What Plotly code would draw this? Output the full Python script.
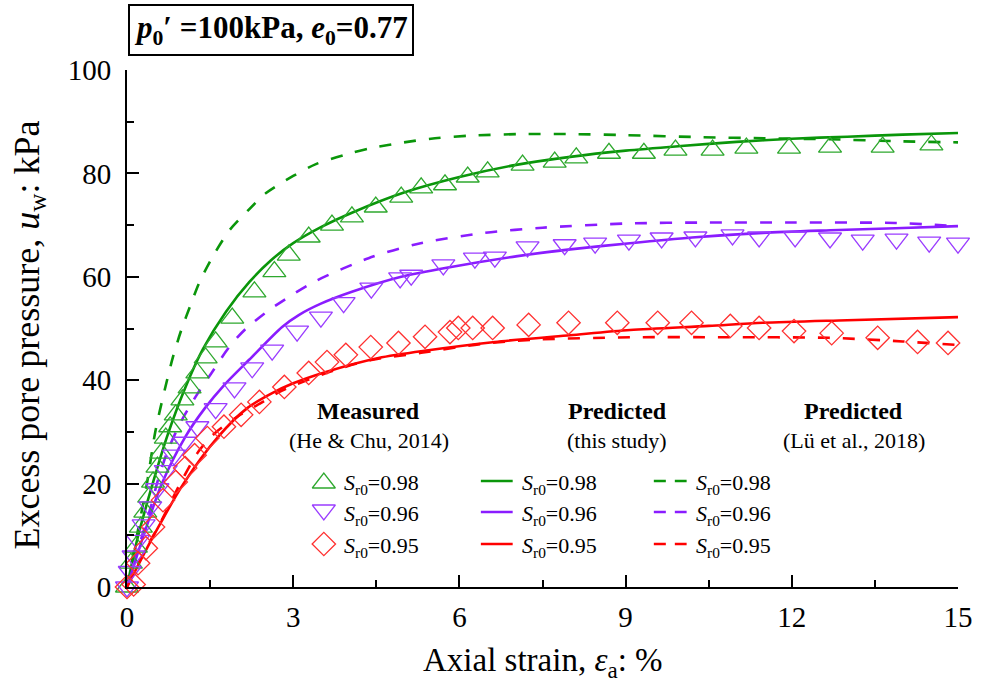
import plotly.graph_objects as go

# ---------------- data ----------------
meas_098_x = [0, 0.07, 0.16, 0.25, 0.33, 0.40, 0.47, 0.55, 0.62, 0.70, 0.78, 0.88, 1.0, 1.13, 1.27, 1.42, 1.6, 1.9,
              2.3, 2.66, 2.92, 3.28, 3.70, 4.06, 4.49, 4.95, 5.31, 5.74, 6.15, 6.51, 7.14, 7.72, 8.11, 8.70, 9.33,
              9.90, 10.57, 11.18, 11.95, 12.69, 13.64, 14.52]
meas_098_y = [0, 4.6, 7.7, 11.6, 14.5, 17.4, 20.3, 23.2, 25.9, 28.8, 31, 33.3, 36.2, 38.5, 41.4, 44.3, 47.4, 52,
              57.1, 61, 64.2, 67.7, 70, 71.6, 73.5, 75.4, 77.2, 77.8, 79.3, 80.3, 81.6, 82.2, 83.0, 83.9, 83.9,
              84.5, 84.5, 84.9, 84.9, 85.1, 85.1, 85.5]

meas_096_x = [0, 0.05, 0.12, 0.2, 0.3, 0.42, 0.55, 0.7, 0.85, 1.04, 1.27, 1.6, 1.94, 2.26, 2.62, 3.07, 3.5, 3.91,
              4.41, 4.93, 5.13, 5.71, 6.28, 6.64, 7.23, 7.9, 8.45, 9.06, 9.65, 10.26, 10.93, 11.41, 12.06, 12.69,
              13.28, 13.89, 14.48, 15.0]
meas_096_y = [0, 3, 6, 9, 12, 15.5, 19, 22.5, 25.5, 28, 31, 34.5, 38.5, 42.4, 45.8, 49.5, 52.2, 55,
              57.8, 59.8, 60.3, 62.3, 63.6, 63.8, 65.8, 66.2, 66.5, 67.1, 67.5, 67.7, 68.1, 67.7, 67.7, 67.5,
              67.1, 67.3, 66.7, 66.5]

meas_095_x = [0, 0.12, 0.2, 0.34, 0.47, 0.65, 0.88, 1.05, 1.22, 1.45, 1.75, 2.06, 2.39, 2.84, 3.28, 3.61, 3.95,
              4.40, 4.90, 5.38, 5.83, 5.98, 6.24, 6.60, 7.25, 7.97, 8.85, 9.58, 10.19, 10.89, 11.41, 12.04,
              12.72, 13.55, 14.27, 14.82]
meas_095_y = [0, 0.5, 4.6, 7.5, 11.6, 16.8, 20.3, 23, 25.5, 28.8, 31, 33.3, 35.8, 38.7, 41.4, 43.5, 44.9,
              46.4, 47.2, 48.4, 49.3, 50.1, 50.1, 50.1, 50.7, 51.1, 51.1, 51.1, 51.1, 50.5, 50.1, 49.5,
              49.1, 48.2, 47.4, 47.2]

pred_098_x = [0, 0.18, 0.45, 0.72, 1.05, 1.37, 1.79, 2.21, 2.6, 3.0, 3.5, 4.06, 5, 6, 7, 8, 9, 10, 11, 12, 13,
              14, 15]
pred_098_y = [0, 9, 19.5, 29, 38.5, 46, 53.3, 59, 63.2, 66.5, 69.6, 72.4, 76.3, 79.3, 81.6, 83.2, 84.4, 85.3,
              86.1, 86.7, 87.1, 87.5, 87.8]

pred_096_x = [0, 0.3, 0.63, 1.05, 1.4, 1.75, 2.21, 2.8, 3.1, 3.5, 4.06, 4.95, 5.85, 7.05, 8, 9.08, 10.2, 11.48,
              12.7, 13.87, 15]
pred_096_y = [0, 10, 20, 29, 34.5, 39, 44, 50.3, 52.6, 54.8, 57.1, 60, 61.9, 64, 65.3, 66.5, 67.6, 68.5,
              69, 69.4, 69.8]

pred_095_x = [0, 0.51, 1.02, 1.64, 2.17, 2.62, 3.0, 3.59, 4.54, 5.44, 6.64, 8, 9.08, 10.5, 11.48, 13, 15]
pred_095_y = [0, 10.5, 20, 29, 34.6, 37.5, 39.4, 41.6, 44.3, 45.8, 47.4, 48.7, 49.7, 50.5, 51.1, 51.6, 52.2]

lu_098_x = [0, 0.18, 0.36, 0.51, 0.68, 0.83, 0.98, 1.16, 1.31, 1.58, 1.85, 2.2, 2.51, 3.0, 3.41, 4.0, 4.41, 5.0,
            5.56, 6.2, 7.05, 8, 9, 10.4, 11.5, 12.67, 14, 15]
lu_098_y = [0, 10, 20, 30, 38.1, 44.5, 49.7, 54.9, 59, 64.5, 69, 73, 76.2, 79.5, 81.8, 83.8, 84.9, 86,
            86.8, 87.3, 87.6, 87.6, 87.4, 87, 86.8, 86.6, 86.2, 86]

lu_096_x = [0, 0.25, 0.43, 0.56, 0.74, 1.0, 1.28, 1.52, 1.85, 2.15, 2.57, 2.98, 3.41, 4.36, 5.26, 6.46, 7.5, 9,
            10.5, 12, 13.87, 15]
lu_096_y = [0, 9.1, 15.5, 20.7, 26.5, 32.5, 37.5, 41.3, 46.5, 50, 53.6, 56.5, 59.2, 63.6, 66.4, 68.5, 69.5, 70.3,
            70.5, 70.5, 70.4, 69.8]

lu_095_x = [0, 0.3, 0.63, 0.96, 1.29, 1.58, 2.0, 2.42, 2.8, 3.77, 4.41, 5.31, 6.39, 7.28, 9.08, 10.87, 12.67, 14, 15]
lu_095_y = [0, 6.5, 13, 20, 26.2, 29.7, 33, 35.6, 38, 42, 43.9, 45.3, 47, 47.8, 48.3, 48.3, 48.2, 47.5, 46.8]

series_labels = ["0.98", "0.96", "0.95"]
x_ticks = [0, 3, 6, 9, 12, 15]
y_ticks = [0, 20, 40, 60, 80, 100]

# ---------------- styles ----------------
FONT = "Times New Roman, Liberation Serif, Tinos, DejaVu Serif, serif"
GREEN_L, PURPLE_L, RED_L = "#0a960a", "#8a1cff", "#ff0000"
GREEN_M, PURPLE_M, RED_M = "#2ea82e", "#9a3cff", "#ff3030"
line_colors = [GREEN_L, PURPLE_L, RED_L]
mark_colors = [GREEN_M, PURPLE_M, RED_M]
symbols = ["triangle-up-open", "triangle-down-open", "diamond-open"]
msizes = [20, 20, 18]

L, R, T, B = 127, 22, 70, 99
W, H = 985, 686
PW, PH = W - L - R, H - T - B


def fx(px):
    return (px - L) / PW


def fy(py):
    return (H - B - py) / PH


fig = go.Figure()

meas = [(meas_098_x, meas_098_y), (meas_096_x, meas_096_y), (meas_095_x, meas_095_y)]
pred = [(pred_098_x, pred_098_y), (pred_096_x, pred_096_y), (pred_095_x, pred_095_y)]
lu = [(lu_098_x, lu_098_y), (lu_096_x, lu_096_y), (lu_095_x, lu_095_y)]

for i in range(3):
    fig.add_trace(go.Scatter(x=lu[i][0], y=lu[i][1], mode="lines", line_shape="spline",
                             line=dict(color=line_colors[i], width=2.6, dash="12px,13px", smoothing=0.8),
                             cliponaxis=False, showlegend=False))
for i in range(3):
    fig.add_trace(go.Scatter(x=pred[i][0], y=pred[i][1], mode="lines", line_shape="spline",
                             line=dict(color=line_colors[i], width=2.6, smoothing=0.8),
                             cliponaxis=False, showlegend=False))
for i in range(3):
    fig.add_trace(go.Scatter(x=meas[i][0], y=meas[i][1], mode="markers",
                             marker=dict(symbol=symbols[i], size=msizes[i], color=mark_colors[i],
                                         line=dict(width=1.3, color=mark_colors[i])),
                             cliponaxis=False, showlegend=False))

# ---------------- custom legend (overlay axes in plot-fraction coords) ----------------
row_y = [481, 512, 544]
mark_off = [2, -2, 0]
for i in range(3):
    fig.add_trace(go.Scatter(x=[fx(325)], y=[fy(row_y[i] + mark_off[i])], mode="markers",
                             marker=dict(symbol=symbols[i], size=msizes[i], color=mark_colors[i],
                                         line=dict(width=1.3, color=mark_colors[i])),
                             xaxis="x2", yaxis="y2", showlegend=False, hoverinfo="skip"))
    fig.add_trace(go.Scatter(x=[fx(483), fx(515)], y=[fy(row_y[i])] * 2, mode="lines",
                             line=dict(color=line_colors[i], width=2.6),
                             xaxis="x2", yaxis="y2", showlegend=False, hoverinfo="skip"))
    fig.add_trace(go.Scatter(x=[fx(657), fx(690)], y=[fy(row_y[i])] * 2, mode="lines",
                             line=dict(color=line_colors[i], width=2.6, dash="12px,9px"),
                             xaxis="x2", yaxis="y2", showlegend=False, hoverinfo="skip"))

annotations = []
for cx, head, sub in [(370, "Measured", "(He &amp; Chu, 2014)"),
                      (620, "Predicted", "(this study)"),
                      (858, "Predicted", "(Lü et al., 2018)")]:
    annotations.append(dict(x=fx(cx), y=fy(411), xref="paper", yref="paper", showarrow=False,
                            text="<b>" + head + "</b>", font=dict(family=FONT, size=24, color="black"),
                            xanchor="center", yanchor="middle"))
    annotations.append(dict(x=fx(cx), y=fy(440), xref="paper", yref="paper", showarrow=False,
                            text=sub, font=dict(family=FONT, size=22, color="black"),
                            xanchor="center", yanchor="middle"))
for tx in [343, 522, 697]:
    for i in range(3):
        annotations.append(dict(x=fx(tx), y=fy(row_y[i] + 3), xref="paper", yref="paper", showarrow=False,
                                text="<i>S</i><sub>r0</sub>=" + series_labels[i],
                                font=dict(family=FONT, size=22, color="black"),
                                xanchor="left", yanchor="middle"))

# title box
annotations.append(dict(x=fx(271.5), y=fy(30), xref="paper", yref="paper", showarrow=False,
                        text="<b><i>p</i><sub>0</sub>′ =100kPa, <i>e</i><sub>0</sub>=0.77</b>",
                        font=dict(family=FONT, size=31, color="black"),
                        xanchor="center", yanchor="middle",
                        bordercolor="black", borderwidth=2, borderpad=4, bgcolor="white"))

# axis titles
annotations.append(dict(x=fx(545), y=fy(662), xref="paper", yref="paper", showarrow=False,
                        text="Axial strain, <i>ε</i><sub>a</sub>: %",
                        font=dict(family=FONT, size=33, color="black"),
                        xanchor="center", yanchor="middle"))
annotations.append(dict(x=fx(28), y=fy(335), xref="paper", yref="paper", showarrow=False,
                        text="Excess pore pressure, <i>u</i><sub>w</sub>: kPa", textangle=-90,
                        font=dict(family=FONT, size=36, color="black"),
                        xanchor="center", yanchor="middle"))

fig.update_layout(
    width=W, height=H,
    margin=dict(l=L, r=R, t=T, b=B, pad=0),
    paper_bgcolor="white", plot_bgcolor="white",
    font=dict(family=FONT, color="black"),
    showlegend=False,
    annotations=annotations,
    xaxis=dict(range=[0, 15], tickvals=x_ticks, ticktext=[str(v) for v in x_ticks],
               ticks="inside", ticklen=12, tickwidth=2, tickcolor="black",
               minor=dict(dtick=1.5, ticks="inside", ticklen=7, tickwidth=2, tickcolor="black"),
               showline=True, linecolor="black", linewidth=2, showgrid=False, zeroline=False,
               tickfont=dict(family=FONT, size=29, color="black"), ticklabelstandoff=3),
    yaxis=dict(range=[0, 100], tickvals=y_ticks, ticktext=[str(v) for v in y_ticks],
               ticks="inside", ticklen=12, tickwidth=2, tickcolor="black",
               minor=dict(dtick=10, ticks="inside", ticklen=7, tickwidth=2, tickcolor="black"),
               showline=True, linecolor="black", linewidth=2, showgrid=False, zeroline=False,
               tickfont=dict(family=FONT, size=29, color="black"), ticklabelstandoff=8),
    xaxis2=dict(range=[0, 1], overlaying="x", visible=False, anchor="y2"),
    yaxis2=dict(range=[0, 1], overlaying="y", visible=False, anchor="x2"),
)

fig.write_html("out.html")
